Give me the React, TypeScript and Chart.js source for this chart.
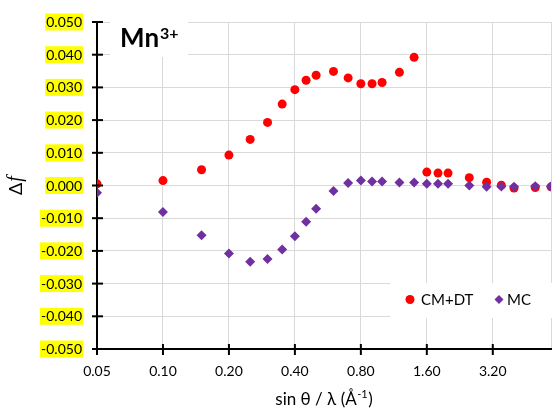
import React, { useEffect, useRef } from 'react';
import { Chart, registerables } from 'chart.js';

Chart.register(...registerables);

// sin θ / λ values (Å⁻¹)
const X_VALUES = [0.05, 0.10, 0.15, 0.20, 0.25, 0.30, 0.35, 0.40, 0.45, 0.50, 0.60, 0.70, 0.80, 0.90, 1.00, 1.20, 1.40, 1.60, 1.80, 2.00, 2.50, 3.00, 3.50, 4.00, 5.00, 5.90];
const CMDT_VALUES = [0.0005, 0.0015, 0.0048, 0.0093, 0.0141, 0.0193, 0.0249, 0.0293, 0.0322, 0.0337, 0.0349, 0.0329, 0.0311, 0.0311, 0.0315, 0.0346, 0.0392, 0.0041, 0.0038, 0.0038, 0.0024, 0.0010, 0.0001, -0.0008, -0.0006, -0.0004];
const MC_VALUES = [-0.0022, -0.0081, -0.0152, -0.0208, -0.0233, -0.0225, -0.0196, -0.0155, -0.0111, -0.0071, -0.0017, 0.0008, 0.0015, 0.0012, 0.0012, 0.0009, 0.0009, 0.0005, 0.0005, 0.0005, 0.0000, -0.0004, -0.0003, -0.0004, -0.0002, -0.0003];

const X_TICKS = [0.05, 0.10, 0.20, 0.40, 0.80, 1.60, 3.20];
const X_MAX = 5.9;
const Y_TICKS = [-0.05, -0.04, -0.03, -0.02, -0.01, 0, 0.01, 0.02, 0.03, 0.04, 0.05];

const SERIES_NAMES = ['CM+DT', 'MC'];
const TITLE_MAIN = 'Mn';
const TITLE_SUP = '3+';
const X_TITLE_MAIN = 'sin θ / λ (Å';
const X_TITLE_SUP = '-1';
const X_TITLE_END = ')';

const RED = '#FF0000';
const PURPLE = '#7030A0';
const FONT = 'Lato, "Open Sans", sans-serif';

const decorPlugin = {
  id: 'decor',
  afterDraw(chart: any) {
    const ctx = chart.ctx as CanvasRenderingContext2D;
    const xs = chart.scales.x;
    const ys = chart.scales.y;
    const area = chart.chartArea;
    ctx.save();

    // cross tick marks
    ctx.strokeStyle = '#000';
    ctx.lineWidth = 2;
    for (const v of Y_TICKS) {
      const y = ys.getPixelForValue(v);
      ctx.beginPath();
      ctx.moveTo(area.left - 5, y);
      ctx.lineTo(area.left + 6, y);
      ctx.stroke();
    }
    for (const v of X_TICKS) {
      const x = xs.getPixelForValue(v);
      ctx.beginPath();
      ctx.moveTo(x, area.bottom - 5);
      ctx.lineTo(x, area.bottom + 6);
      ctx.stroke();
    }

    // y tick labels with yellow highlight
    ctx.font = `14px ${FONT}`;
    ctx.textAlign = 'right';
    ctx.textBaseline = 'middle';
    const rightX = area.left - 15;
    for (const v of Y_TICKS) {
      const y = ys.getPixelForValue(v);
      const txt = (Math.abs(v) < 1e-9 ? 0 : v).toFixed(3);
      const w = ctx.measureText(txt).width;
      ctx.fillStyle = '#FFFF00';
      ctx.fillRect(rightX - w - 1, y - 8.5, w + 2, 17);
      ctx.fillStyle = '#000';
      ctx.fillText(txt, rightX, y + 0.5);
    }

    // x tick labels
    ctx.textAlign = 'center';
    ctx.textBaseline = 'middle';
    ctx.fillStyle = '#000';
    for (const v of X_TICKS) {
      const x = xs.getPixelForValue(v);
      ctx.fillText(v.toFixed(2), x, area.bottom + 22);
    }

    // x axis title
    ctx.textBaseline = 'alphabetic';
    ctx.textAlign = 'left';
    ctx.font = `17px ${FONT}`;
    const w1 = ctx.measureText(X_TITLE_MAIN).width;
    const w3 = ctx.measureText(X_TITLE_END).width;
    ctx.font = `11px ${FONT}`;
    const w2 = ctx.measureText(X_TITLE_SUP).width;
    const total = w1 + w2 + w3 + 1;
    const cx = (area.left + area.right) / 2;
    let tx = cx - total / 2;
    const base = 405;
    ctx.font = `17px ${FONT}`;
    ctx.fillText(X_TITLE_MAIN, tx, base);
    tx += w1;
    ctx.font = `11px ${FONT}`;
    ctx.fillText(X_TITLE_SUP, tx + 0.5, base - 7);
    tx += w2 + 1;
    ctx.font = `17px ${FONT}`;
    ctx.fillText(X_TITLE_END, tx, base);

    // y axis title (rotated)
    ctx.save();
    ctx.translate(16, (area.top + area.bottom) / 2);
    ctx.rotate(-Math.PI / 2);
    ctx.textBaseline = 'middle';
    ctx.font = `18px ${FONT}`;
    const dW = ctx.measureText('Δ').width;
    ctx.font = `italic 20px "Liberation Serif", serif`;
    const fW = ctx.measureText('f').width;
    let yx = -(dW + fW + 1) / 2;
    ctx.font = `18px ${FONT}`;
    ctx.fillText('Δ', yx, 0);
    ctx.font = `italic 20px "Liberation Serif", serif`;
    ctx.fillText('f', yx + dW + 1, 0);
    ctx.restore();

    // chart title box
    ctx.fillStyle = '#FFFFFF';
    ctx.fillRect(110, 18, 78, 39);
    ctx.fillStyle = '#000';
    ctx.font = `bold 26px ${FONT}`;
    ctx.textBaseline = 'alphabetic';
    ctx.textAlign = 'left';
    ctx.fillText(TITLE_MAIN, 120, 47);
    const mW = ctx.measureText(TITLE_MAIN).width;
    ctx.font = `bold 16px ${FONT}`;
    ctx.fillText(TITLE_SUP, 120 + mW + 1, 39);

    // legend box
    ctx.fillStyle = '#FFFFFF';
    ctx.fillRect(390, 283, area.right - 390 + 4, 35);
    const ly = 299.5;
    ctx.fillStyle = RED;
    ctx.beginPath();
    ctx.arc(410, ly, 4.5, 0, Math.PI * 2);
    ctx.fill();
    ctx.fillStyle = '#000';
    ctx.font = `15px ${FONT}`;
    ctx.textBaseline = 'middle';
    ctx.fillText(SERIES_NAMES[0], 421, ly + 0.5);
    ctx.fillStyle = PURPLE;
    ctx.beginPath();
    ctx.moveTo(499 - 4.5, ly);
    ctx.lineTo(499, ly - 4.5);
    ctx.lineTo(499 + 4.5, ly);
    ctx.lineTo(499, ly + 4.5);
    ctx.closePath();
    ctx.fill();
    ctx.fillStyle = '#000';
    ctx.fillText(SERIES_NAMES[1], 507, ly + 0.5);

    ctx.restore();
  },
};

export default function App() {
  const canvasRef = useRef<HTMLCanvasElement | null>(null);

  useEffect(() => {
    document.body.style.margin = '0';
    const canvas = canvasRef.current;
    if (!canvas) return;
    const chart = new Chart(canvas, {
      type: 'scatter',
      data: {
        datasets: [
          {
            label: SERIES_NAMES[1],
            data: X_VALUES.map((x, i) => ({ x, y: MC_VALUES[i] })),
            pointStyle: 'rectRot',
            pointRadius: 5,
            pointBorderWidth: 0,
            backgroundColor: PURPLE,
            borderColor: PURPLE,
            showLine: false,
            order: 0,
          },
          {
            label: SERIES_NAMES[0],
            data: X_VALUES.map((x, i) => ({ x, y: CMDT_VALUES[i] })),
            pointStyle: 'circle',
            pointRadius: 4.5,
            pointBorderWidth: 0,
            backgroundColor: RED,
            borderColor: RED,
            showLine: false,
            order: 1,
          },
        ],
      },
      options: {
        animation: false,
        responsive: false,
        maintainAspectRatio: false,
        layout: { padding: { top: 22, right: 2, left: 0, bottom: 0 } },
        plugins: {
          legend: { display: false },
          tooltip: { enabled: false },
          title: { display: false },
        },
        scales: {
          x: {
            type: 'logarithmic',
            min: 0.05,
            max: X_MAX,
            afterBuildTicks: (s: any) => {
              s.ticks = [...X_TICKS, X_MAX].map((v) => ({ value: v }));
            },
            afterFit: (s: any) => {
              s.height = 65;
            },
            ticks: { display: false },
            grid: { color: '#d9d9d9', lineWidth: 1, drawTicks: false },
            border: { color: '#000', width: 2 },
          },
          y: {
            type: 'linear',
            min: -0.05,
            max: 0.05,
            afterBuildTicks: (s: any) => {
              s.ticks = Y_TICKS.map((v) => ({ value: v }));
            },
            afterFit: (s: any) => {
              s.width = 97;
            },
            ticks: { display: false },
            grid: { color: '#d9d9d9', lineWidth: 1, drawTicks: false },
            border: { color: '#000', width: 2 },
          },
        },
      },
      plugins: [decorPlugin],
    } as any);
    return () => chart.destroy();
  }, []);

  return (
    <div style={{ width: 556, height: 414, background: '#fff' }}>
      <canvas ref={canvasRef} width={556} height={414} style={{ display: 'block' }} />
    </div>
  );
}
